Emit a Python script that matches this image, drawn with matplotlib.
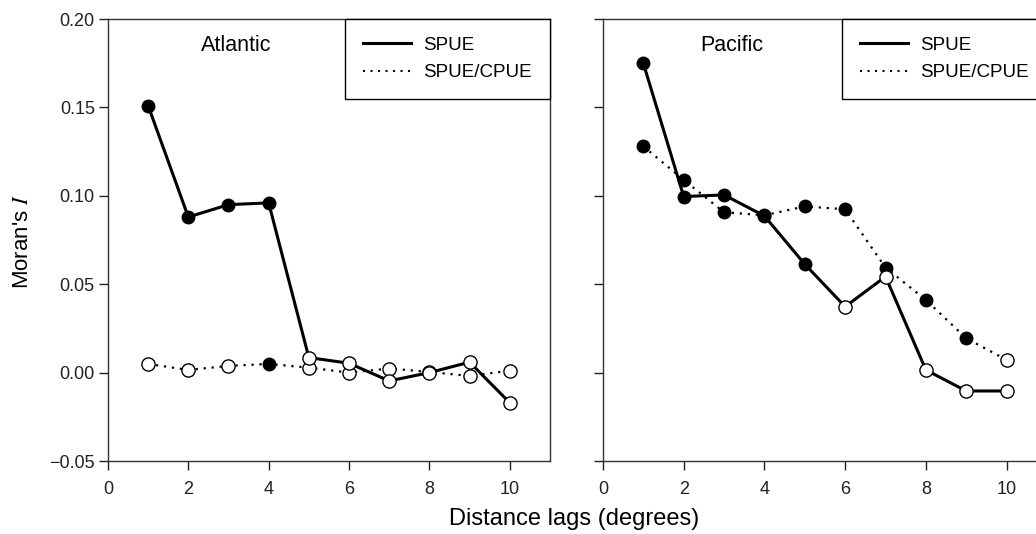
import numpy as np
import matplotlib
matplotlib.use("Agg")
from matplotlib import pyplot as plt
from matplotlib.lines import Line2D

plt.rcParams['font.family'] = ['Liberation Sans', 'DejaVu Sans']
plt.rcParams['mathtext.fontset'] = 'stix'

lags = [1, 2, 3, 4, 5, 6, 7, 8, 9, 10]

# Atlantic
atl_spue = [0.151, 0.088, 0.095, 0.096, 0.0085, 0.0053, -0.0047, 0.0, 0.0059, -0.017]
atl_spue_sig = [1, 1, 1, 1, 0, 0, 0, 0, 0, 0]
atl_ratio = [0.0049, 0.0015, 0.0038, 0.0049, 0.0028, 0.0, 0.0023, 0.0004, -0.0019, 0.0011]
atl_ratio_sig = [0, 0, 0, 1, 0, 0, 0, 0, 0, 0]

# Pacific
pac_spue = [0.175, 0.0996, 0.1005, 0.0886, 0.0613, 0.0373, 0.0543, 0.0015, -0.0104, -0.0104]
pac_spue_sig = [1, 1, 1, 1, 1, 0, 0, 0, 0, 0]
pac_ratio = [0.128, 0.109, 0.0907, 0.089, 0.094, 0.0924, 0.0594, 0.0411, 0.0194, 0.0072]
pac_ratio_sig = [1, 1, 1, 1, 1, 1, 1, 1, 1, 0]

dotted = (0, (1, 2.6))


def draw_series(ax, x, y, sig, ls, lw, z):
    ax.plot(x, y, color="black", linestyle=ls, linewidth=lw, zorder=z)
    for xi, yi, s in zip(x, y, sig):
        ax.plot(xi, yi, marker="o", markersize=9 if s else 9.5,
                markerfacecolor="black" if s else "white",
                markeredgecolor="black", markeredgewidth=1.0,
                linestyle="none", zorder=z + 1)


def style_axes(ax, name):
    ax.set_xlim(0, 11)
    ax.set_ylim(-0.05, 0.20)
    ax.set_xticks([0, 2, 4, 6, 8, 10])
    ax.set_yticks([-0.05, 0.0, 0.05, 0.10, 0.15, 0.20])
    ax.tick_params(direction="out", length=6.5, width=1, labelsize=13, colors="#222222")
    ax.tick_params(axis="x", pad=8)
    ax.tick_params(axis="y", pad=3)
    for sp in ax.spines.values():
        sp.set_linewidth(1.0)
        sp.set_color("#333333")
    ax.text(0.29, 0.94, name, transform=ax.transAxes, ha="center", va="center", fontsize=15.5)
    handles = [Line2D([], [], color="black", linewidth=2.2),
               Line2D([], [], color="black", linewidth=1.5, linestyle=dotted)]
    leg = ax.legend(handles, ["SPUE", "SPUE/CPUE"], loc="upper right", borderaxespad=0,
                    fancybox=False, framealpha=1, edgecolor="black", fontsize=13.5,
                    handlelength=2.6, borderpad=0.95, labelspacing=0.55, handletextpad=0.65)
    leg.get_frame().set_linewidth(1.0)
    leg.set_zorder(10)


fig = plt.figure(figsize=(10.36, 5.34), dpi=100)
ax1 = fig.add_axes([0.1042, 0.1367, 0.4266, 0.8277])
ax2 = fig.add_axes([0.582, 0.1367, 0.4286, 0.8277])

draw_series(ax1, lags, atl_ratio, atl_ratio_sig, dotted, 1.6, 2)
draw_series(ax1, lags, atl_spue, atl_spue_sig, "-", 2.2, 4)
style_axes(ax1, "Atlantic")
ax1.set_yticklabels(["\u22120.05", "0.00", "0.05", "0.10", "0.15", "0.20"])

draw_series(ax2, lags, pac_ratio, pac_ratio_sig, dotted, 1.6, 2)
draw_series(ax2, lags, pac_spue, pac_spue_sig, "-", 2.2, 4)
style_axes(ax2, "Pacific")
ax2.set_yticklabels([])

fig.text(0.022, 0.547, "Moran's $I$", rotation=90, ha="center", va="center", fontsize=16)
fig.text(0.554, 0.029, "Distance lags (degrees)", ha="center", va="center", fontsize=17)

fig.savefig("out.png", dpi=100)
